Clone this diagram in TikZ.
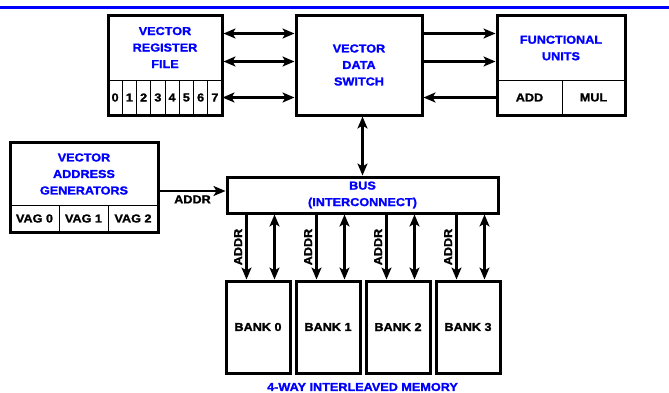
\documentclass[tikz,border=0pt]{standalone}
\usepackage{fontspec}
\setmainfont{Liberation Sans}[FakeStretch=1.1, BoldFeatures={FakeBold=1.5}]
\usetikzlibrary{arrows.meta, positioning}

\begin{document}
\begin{tikzpicture}[
    x=1pt, y=-1pt,
    box/.style={draw, line width=3pt, inner sep=0pt},
    title/.style={text=blue, align=center, font=\bfseries\fontsize{11.5}{16.5}\selectfont},
    lbl/.style={font=\bfseries\fontsize{11.5}{12}\selectfont},
    cell/.style={draw, line width=1pt, inner sep=0pt, lbl},
    link/.style={line width=2.2pt},
    >={Stealth[length=12pt, width=10pt, inset=3pt]}, node distance=3pt
  ]
    \useasboundingbox (0,0) rectangle (669,392);
    \draw[blue, line width=3pt] (0,7.5) -- (669,7.5);

    % register file
    \foreach \i in {0,...,7}
      \node[cell, minimum width=14.25pt, minimum height=35pt] (r\i) at ({115.125+14.25*\i},97.5) {\i};
    \node[box, minimum width=114pt, minimum height=100pt] (vrf) at (165,65) {};
    \node[title] (vrftitle) at (165,47.5) {VECTOR\\REGISTER\\FILE};

    % data switch
    \node[box, minimum width=126pt, minimum height=100pt, title] (vds) at (359,65) {VECTOR\\DATA\\SWITCH};

    % functional units
    \node[cell, minimum width=65pt, minimum height=35pt] (add) at (529.5,97.5) {ADD};
    \node[cell, minimum width=63pt, minimum height=35pt] (mul) at (593.5,97.5) {MUL};
    \node[box, minimum width=128pt, minimum height=100pt] (fu) at (561,65) {};
    \node[title] (futitle) at (561,48) {FUNCTIONAL\\UNITS};

    % address generators
    \node[cell, minimum width=49pt, minimum height=27pt] (vag0) at (34.5,218.5) {VAG 0};
    \node[cell, minimum width=49pt, minimum height=27pt] (vag1) at (83.5,218.5) {VAG 1};
    \node[cell, minimum width=50pt, minimum height=27pt] (vag2) at (133,218.5) {VAG 2};
    \node[box, minimum width=148pt, minimum height=90pt] (vag) at (84,187) {};
    \node[title] (vagtitle) at (84,174) {VECTOR\\ADDRESS\\GENERATORS};

    % bus and banks
    \node[box, minimum width=271pt, minimum height=36pt, title] (bus) at (362.5,195) {BUS\\(INTERCONNECT)};
    \node[box, lbl, minimum width=64pt, minimum height=92pt] (b0) at (258,327) {BANK 0};
    \node[box, lbl, minimum width=64pt, minimum height=92pt, right=of b0] (b1) {BANK 1};
    \node[box, lbl, minimum width=64pt, minimum height=92pt, right=of b1] (b2) {BANK 2};
    \node[box, lbl, minimum width=64pt, minimum height=92pt, right=of b2] (b3) {BANK 3};
    \node[title] (mem) at (362.5,387) {4-WAY INTERLEAVED MEMORY};

    \draw[link, <->] ([yshift=-20pt]vrf.north east) -- ([yshift=-20pt]vds.north west);
    \draw[link, <->] ([yshift=-48pt]vrf.north east) -- ([yshift=-48pt]vds.north west);
    \draw[link, <->] (r7.east) -- (r7.east -| vds.west);
    \draw[link, ->] ([yshift=-20pt]vds.north east) -- ([yshift=-20pt]fu.north west);
    \draw[link, ->] ([yshift=-48pt]vds.north east) -- ([yshift=-48pt]fu.north west);
    \draw[link, ->] (add.west) -- (add.west -| vds.east);
    \draw[link, <->] (bus.north |- vds.south) -- (bus.north);
    \draw[link, ->] ([yshift=-4pt]vag.east) -- ([yshift=-4pt]vag.east -| bus.west)
      node[midway, below, lbl] {ADDR};
    \foreach \i in {0,...,3} {
      \draw[link, ->] ([xshift=22pt]bus.south -| b\i.north west) -- ([xshift=22pt]b\i.north west)
        node[midway, rotate=90, anchor=south, lbl] {ADDR};
      \draw[link, <->] ([xshift=50pt]bus.south -| b\i.north west) -- ([xshift=50pt]b\i.north west);
    }
  \end{tikzpicture}
\end{document}
